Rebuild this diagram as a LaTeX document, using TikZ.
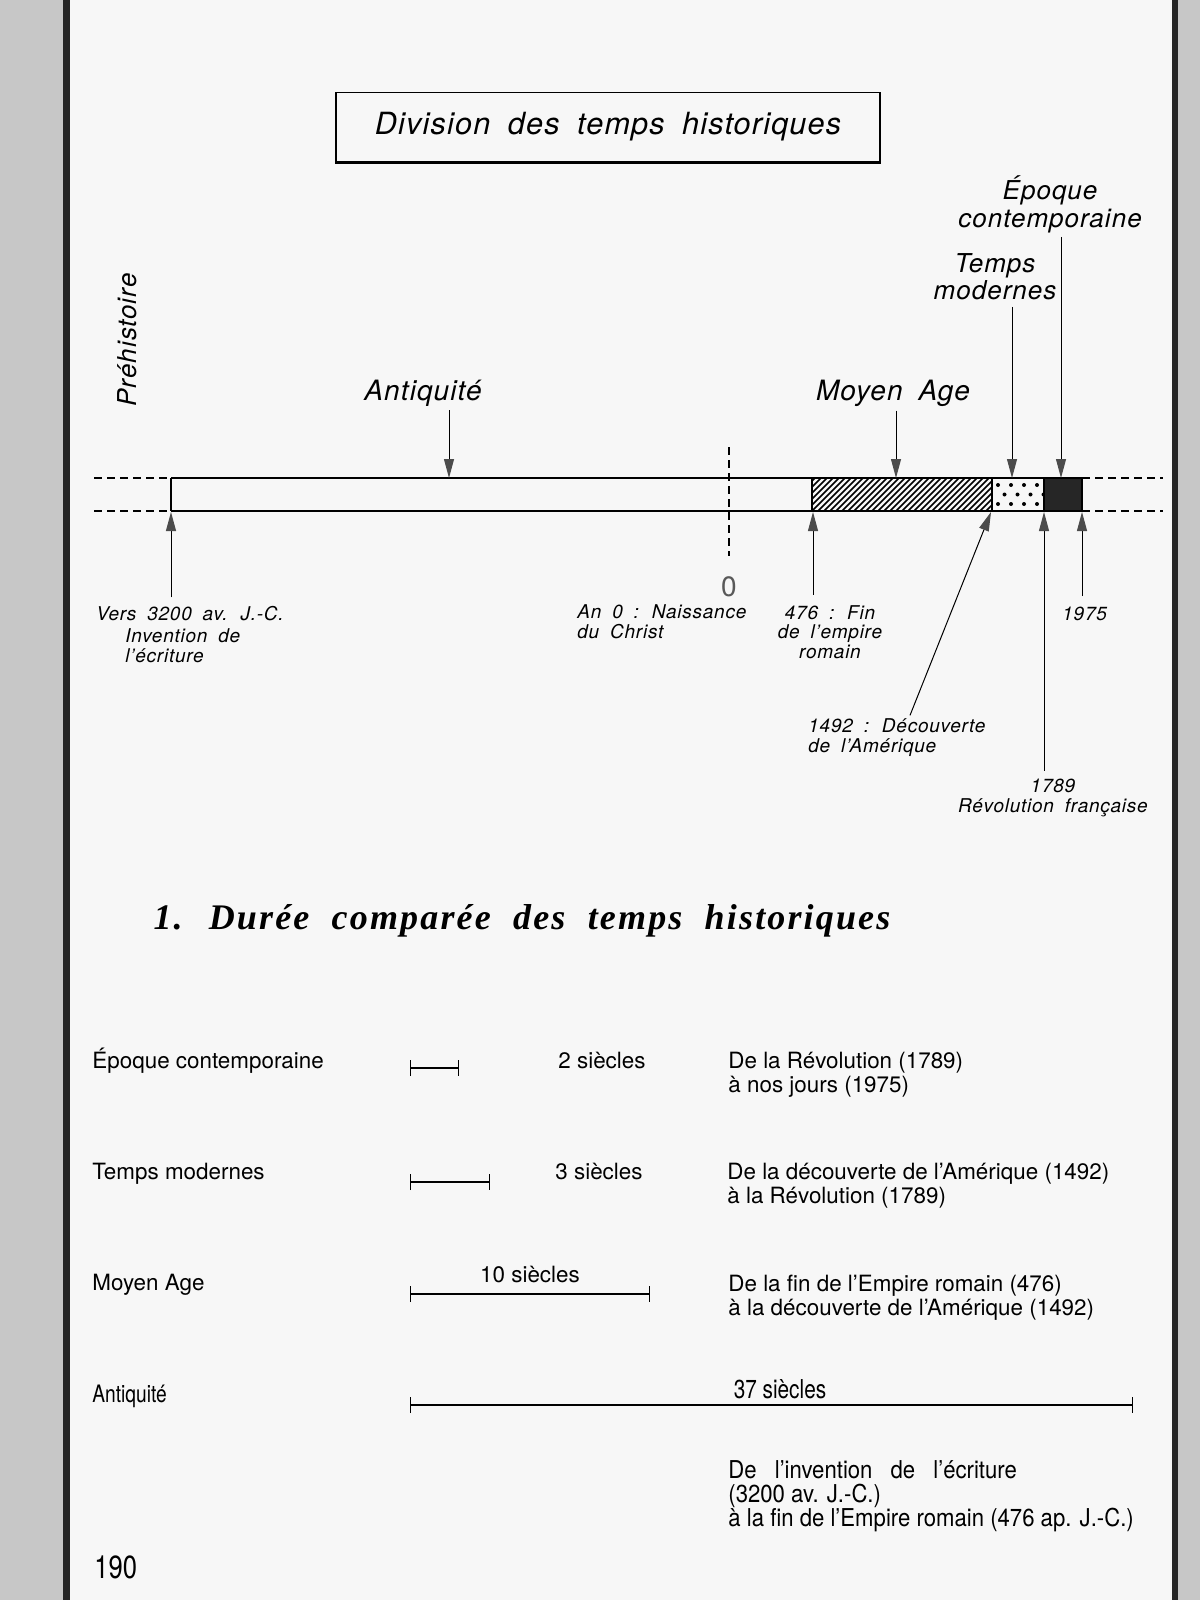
\documentclass[tikz,border=0pt]{standalone}
\usepackage{fontspec}
\setmainfont{TeX Gyre Heros}
\newfontfamily\spacedfont[LetterSpace=4,WordSpace=1.8]{TeX Gyre Heros}
\newfontfamily\narrowfont[FakeStretch=0.8]{TeX Gyre Heros}
\newfontfamily\semifont[FakeStretch=0.9]{TeX Gyre Heros}
\newfontfamily\headfont[LetterSpace=6,WordSpace=2]{Liberation Serif}
\usetikzlibrary{arrows.meta,calc}

\begin{document}
\begin{tikzpicture}[x=0.5pt, y=-0.5pt,
  every node/.style={inner sep=0pt},
  titlebox/.style ={draw, line width=0.6pt, minimum width=272pt,
                    minimum height=34.5pt,
                    font=\spacedfont\itshape\fontsize{15.3}{16}\selectfont},
  period/.style   ={font=\spacedfont\itshape\fontsize{14}{17}\selectfont,
                    align=center},
  subperiod/.style={font=\spacedfont\itshape\fontsize{13}{13.5}\selectfont,
                    align=center},
  datelabel/.style={font=\spacedfont\itshape\fontsize{9.5}{9.7}\selectfont,
                    align=left},
  rowtext/.style  ={font=\fontsize{11.2}{12}\selectfont, anchor=base west,
                    align=left},
  narrowtext/.style={font=\narrowfont\fontsize{13}{11.5}\selectfont,
                    anchor=base west, align=left},
  pointer/.style  ={-{Triangle[length=9.5pt, width=5pt, fill=black!70,
                    color=black!70]}, line width=0.5pt},
  axis/.style     ={line width=0.6pt},
  ext/.style      ={line width=0.6pt, dash pattern=on 4pt off 2.5pt},
  span/.style     ={{Bar[width=8pt]}-{Bar[width=8pt]}, line width=0.6pt},
]
\useasboundingbox (0,0) rectangle (1200,1600);

% === Page ===
\fill[black!3] (70,0) rectangle (1172,1600);
\fill[black!22] (0,0) rectangle (63,1600);
\fill[black!85] (63,0) rectangle (70,1600);
\fill[black!85] (1172,0) rectangle (1178,1600);
\fill[black!22] (1178,0) rectangle (1200,1600);

% === Title ===
\node[titlebox] (title) at (608,127) {Division des temps historiques};
\draw[line width=1.4pt] (title.south west) -- (title.south east);

% === Periods above the line ===
\node[period, rotate=90, font=\spacedfont\itshape\fontsize{13}{13}\selectfont]
  (prehist) at (127,340) {Préhistoire};
\node[period, anchor=base] (antiq) at (423,400) {Antiquité};
\node[period, anchor=base] (moyen) at (893,400) {Moyen Age};
\node[subperiod, anchor=base] (tempsmod) at (995,299) {Temps\\modernes};
\node[subperiod, anchor=base] (contemp) at (1050,227) {Époque\\contemporaine};

% === Time line ===
\draw[axis] (171,478) -- (1082,478) (171,511) -- (1082,511)
  (171,478) -- (171,511);
\begin{scope}
  \clip (812,478) rectangle (992,511);
  \foreach \h in {776,782,...,992}
    \draw[line width=0.75pt] (\h,511) -- (\h+33,478);
\end{scope}
\draw[axis] (812,478) rectangle (992,511);
\foreach \r/\o in {485/0, 494.5/6.5, 504/0}
  \foreach \c in {998,1011,1024,1037}
    \fill (\c+\o,\r) circle (1pt);
\draw[axis] (992,478) rectangle (1044,511);
\draw[axis, fill=black!85] (1044,478) rectangle (1082,511);
\draw[ext] (94,478) -- (171,478) (94,511) -- (171,511)
  (1082,478) -- (1163,478) (1082,511) -- (1163,511);
\draw[ext] (729,447) -- (729,556);
\node[font=\fontsize{14}{14}\selectfont, text=black!65] (zero) at (729,587) {0};

% === Dates below the line ===
\node[datelabel, anchor=base west] (d3200) at (96,620) {Vers 3200 av. J.-C.};
\node[datelabel, anchor=base west] (invention) at (125,662)
  {Invention de\\l’écriture};
\node[datelabel, anchor=base west] (d0) at (577,638)
  {An 0 : Naissance\\du Christ};
\node[datelabel, anchor=base, align=center] (d476) at (830,658)
  {476 : Fin\\de l’empire\\romain};
\node[datelabel, anchor=base west] (d1975) at (1062,620) {1975};
\node[datelabel, anchor=base west] (d1492) at (808,752)
  {1492 : Découverte\\de l’Amérique};
\node[datelabel, anchor=base, align=center] (d1789) at (1053,812)
  {1789\\Révolution française};

% === Arrows ===
\coordinate (hitAntiq) at (449,478);
\coordinate (hitMoyen) at (896,478);
\coordinate (hitModern) at (1012,478);
\coordinate (hitContemp) at (1061,478);
\draw[pointer] ($(antiq.south -| hitAntiq)+(0,4)$) -- (hitAntiq);
\draw[pointer] ($(moyen.south -| hitMoyen)+(0,4)$) -- (hitMoyen);
\draw[pointer] ($(tempsmod.south -| hitModern)+(0,7)$) -- (hitModern);
\draw[pointer] ($(contemp.south -| hitContemp)+(0,4)$) -- (hitContemp);

\coordinate (hit3200) at (171,512);
\coordinate (hit476) at (813,512);
\coordinate (hit1492) at (991,512);
\coordinate (hit1789) at (1044,512);
\coordinate (hit1975) at (1082,512);
\draw[pointer] ($(d3200.north -| hit3200)+(0,-8)$) -- (hit3200);
\draw[pointer] ($(d476.north -| hit476)+(0,-10)$) -- (hit476);
\draw[pointer] ($(d1492.north west)+(102,-3)$) -- (hit1492);
\draw[pointer] ($(d1789.north -| hit1789)+(0,-8)$) -- (hit1789);
\draw[pointer] ($(d1975.north -| hit1975)+(0,-10)$) -- (hit1975);

% === Durations ===
\node[font=\headfont\bfseries\itshape\fontsize{18}{18}\selectfont]
  (heading) at (522,921) {1. Durée comparée des temps historiques};

\node[rowtext] (nameContemp) at (92,1068) {Époque contemporaine};
\node[rowtext] (lenContemp) at (558,1068) {2 siècles};
\node[rowtext] (descContemp) at (728,1092)
  {De la Révolution (1789)\\à nos jours (1975)};
\coordinate (aContemp) at (410,1068);
\coordinate (bContemp) at (459,1068);
\draw[span] (aContemp) -- (bContemp);

\node[rowtext] (nameModern) at (92,1179) {Temps modernes};
\node[rowtext] (lenModern) at (555,1179) {3 siècles};
\node[rowtext] (descModern) at (727,1203)
  {De la découverte de l’Amérique (1492)\\à la Révolution (1789)};
\coordinate (aModern) at (410,1182);
\coordinate (bModern) at (490,1182);
\draw[span] (aModern) -- (bModern);

\node[rowtext] (nameMoyen) at (92,1290) {Moyen Age};
\node[rowtext, anchor=base] (lenMoyen) at (530,1282) {10 siècles};
\node[rowtext] (descMoyen) at (728,1315)
  {De la fin de l’Empire romain (476)\\à la découverte de l’Amérique (1492)};
\coordinate (aMoyen) at (410,1294);
\coordinate (bMoyen) at (650,1294);
\draw[span] (aMoyen) -- (bMoyen);

\node[narrowtext, font=\narrowfont\fontsize{12}{12}\selectfont]
  (nameAntiq) at (92,1402) {Antiquité};
\node[narrowtext, anchor=base] (lenAntiq) at (780,1398) {37 siècles};
\node[narrowtext, font=\semifont\fontsize{12.3}{12}\selectfont]
  (descAntiq) at (728,1526)
  {De\hspace{6pt} l’invention\hspace{6pt} de\hspace{6pt} l’écriture\\(3200 av. J.-C.)\\à la fin de l’Empire romain (476 ap. J.-C.)};
\coordinate (aAntiq) at (410,1405);
\coordinate (bAntiq) at (1133,1405);
\draw[span] (aAntiq) -- (bAntiq);

\node[narrowtext, font=\narrowfont\fontsize{16}{16}\selectfont] (pageno)
  at (94,1578) {190};

\end{tikzpicture}
\end{document}
